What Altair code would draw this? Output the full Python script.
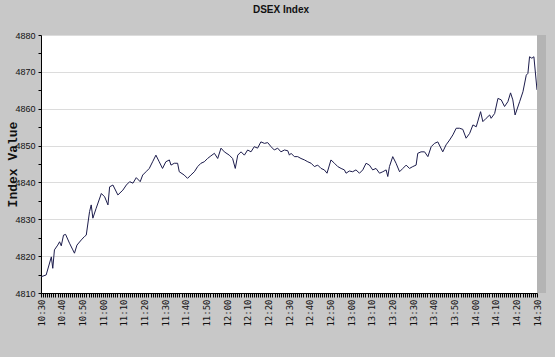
import altair as alt
import pandas as pd

# minutes after 10:30 and DSEX index values
minutes = [0, 2.5, 5, 5.7, 6.5, 8.1, 9, 9.8, 10.9, 11.9, 13.8, 15.4, 16.2, 17.4, 19.5, 21, 21.9,
           23.5, 24.3, 25.1, 26.7, 29.2, 30.8, 32.4, 33.2, 34.8, 37.2, 39.6, 41.3, 42.9, 44.5, 46.1,
           48, 49.2, 50.8, 52.4, 54, 55.6, 57.2, 58.8, 60.4, 62.1, 62.9, 64.5, 66.1, 66.9, 69.3,
           70.9, 72.5, 74.2, 75.8, 77.4, 79, 80.6, 82.2, 83.9, 85.5, 87.1, 88.7, 91.1, 92.7, 94,
           95.2, 96.8, 98.4, 100, 101.6, 103.2, 104.8, 106.4, 108.1, 109.7, 111.3, 112.9, 114.5,
           116.1, 117.8, 119.4, 120.2, 121, 122.6, 124.2, 125.8, 127.5, 129.1, 130.7, 132.3,
           133.9, 135.5, 137.1, 138.4, 140.3, 142, 143.6, 145.2, 146.8, 147.6, 149.2, 150.8,
           152.4, 154.1, 155.7, 157.3, 158.9, 160.5, 162.1, 163.8, 165.4, 167, 167.8, 168.6,
           170.2, 171.8, 173.5, 175.1, 176.7, 178.3, 179.9, 181.5, 182.3, 183.9, 185.6, 187.2,
           188.8, 190.4, 192, 194.4, 196, 197.7, 199.3, 200.9, 202.5, 204.1, 205.7, 207.4, 209,
           210.6, 212.7, 213.8, 215.4, 217.1, 217.8, 219.5, 221.1, 222.7, 224.3, 225.9, 227.2,
           228.3, 229.4, 231.6, 233.2, 234.8, 235.6, 236.4, 237.5, 238.5, 240]
values = [4814.4, 4814.9, 4819.8, 4816.7, 4821.7, 4823, 4823.9, 4822.8, 4825.7, 4825.9, 4823.5,
          4821.7, 4820.8, 4823, 4824.4, 4825.3, 4825.7, 4832.1, 4833.9, 4830.3, 4833, 4837, 4836.1,
          4833.9, 4838.8, 4839.3, 4836.6, 4837.9, 4839.3, 4840.2, 4839.8, 4841.3,
          4840.2, 4842, 4842.9, 4843.8, 4845.6, 4847.4, 4845.6, 4843.8, 4845.6, 4846.1, 4844.7,
          4845.2, 4845.2, 4842.9, 4842, 4841.1, 4842, 4842.9, 4844.3, 4845.2, 4845.6, 4846.5,
          4847.2, 4847.9, 4846.5, 4849.3, 4848.3, 4847.4, 4846.5, 4843.8, 4847.4, 4848.3,
          4847.4, 4848.8, 4848.3, 4849.7, 4849.3, 4851, 4850.6, 4850.8, 4849.7, 4848.8, 4849.3,
          4848.3, 4848.8, 4848.6, 4847.4, 4847.9, 4847, 4847, 4846.5, 4846.1, 4845.6, 4845.2,
          4844.3, 4844.7, 4843.8, 4843.4, 4842.5, 4846.1, 4845.2, 4844.3,
          4843.8, 4843.4, 4842.5, 4843.1, 4842.9, 4843.4, 4842.5, 4843.4, 4845.2, 4844.7,
          4843.4, 4843.8, 4842.5, 4842.9, 4843.4, 4841.6, 4844.3, 4847, 4845.2, 4842.9, 4843.8,
          4844.7, 4843.8, 4844.3, 4844.7, 4847.9, 4848.3, 4848.3, 4847, 4849.7, 4850.6, 4851,
          4848.3, 4850.2, 4851.5, 4852.9, 4854.7, 4854.7, 4854.4, 4852, 4853.3, 4855.6, 4855.1,
          4859.2, 4856.5, 4857.4, 4858.3, 4857.4, 4858.7, 4862.8, 4862.4, 4860.6, 4861.9,
          4864.3, 4862.4, 4858.3, 4861.9, 4864.6, 4869.1, 4869.6, 4874.1, 4873.7, 4874.1, 4865.1]

start_minute = 630  # 10:30
end_minute = 870    # 14:30

df = pd.DataFrame({"t": [start_minute + m for m in minutes], "v": values})

label_font = "DejaVu Sans Mono"

x_axis = alt.Axis(
    values=list(range(start_minute, end_minute + 1)),
    labelExpr="datum.value % 10 == 0 ? (floor(datum.value / 60) + ':' + (datum.value % 60 < 10 ? '0' : '') + (datum.value % 60)) : ''",
    labelAngle=270, labelOverlap=False, grid=False, tickSize=4, tickColor="black",
    domainColor="black", title=None, labelFont=label_font, labelFontSize=9,
    labelColor="#111111", labelPadding=2,
)
y_axis = alt.Axis(
    values=list(range(4810, 4881, 5)), format="d",
    labelExpr="datum.value % 10 == 0 ? datum.label : ''",
    labelOverlap=False, tickSize=3, tickColor="black", domainColor="black",
    grid=True, gridColor="#dcdcdc",
    gridOpacity={"condition": {"test": "datum.value % 10 == 0 && datum.value > 4810", "value": 1}, "value": 0},
    title="Index Value", titleFont="Liberation Mono", titleFontSize=13, titleFontWeight="bold",
    titleColor="#111111", titleX=-29, titleY=129, titleAngle=270,
    titleAlign="center", titleBaseline="middle",
    labelFont="Liberation Sans", labelFontSize=9, labelColor="#111111", labelPadding=3,
)

shadow = alt.Chart(alt.Data(values=[{}])).mark_rect(color="#b4b4b4").encode(
    x=alt.value(496), x2=alt.value(505), y=alt.value(0), y2=alt.value(258)
)

line = alt.Chart(df).mark_line(color="#1c1c4c", strokeWidth=1, clip=True).encode(
    x=alt.X("t:Q", scale=alt.Scale(domain=[start_minute, end_minute], nice=False, zero=False), axis=x_axis),
    y=alt.Y("v:Q", scale=alt.Scale(domain=[4810, 4880], nice=False, zero=False), axis=y_axis),
)

chart = alt.layer(shadow, line).properties(
    width=496, height=258,
    title=alt.TitleParams("DSEX Index", font="Liberation Sans", fontSize=10, fontWeight="bold",
                          color="#111111", anchor="middle", dx=-8, offset=16),
    background="#c8c8c8",
    autosize=alt.AutoSizeParams(type="none"),
    padding={"left": 41, "top": 35, "right": 18, "bottom": 64},
).configure_view(fill="white", stroke=None)

chart.save("out.html", embed_options={"renderer": "svg", "actions": False})
